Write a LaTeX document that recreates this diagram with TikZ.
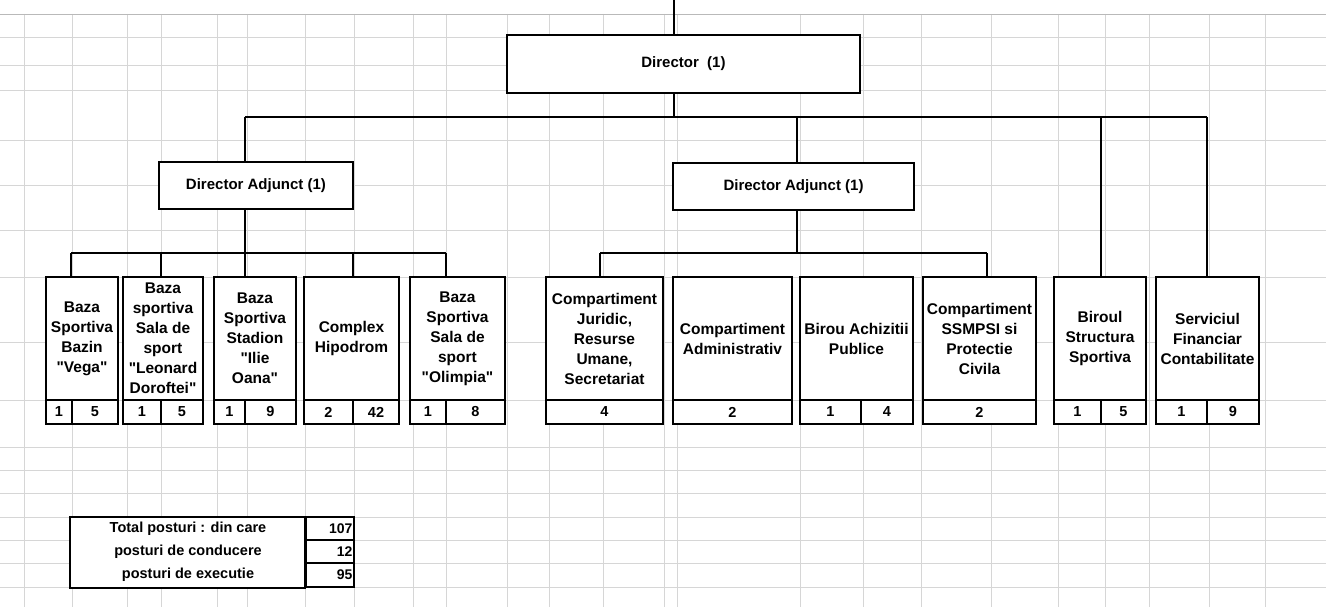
\documentclass[tikz,border=0pt]{standalone}
\usepackage{fontspec}
\setmainfont{Liberation Sans}
\usetikzlibrary{calc}

\tikzset{
    unit/.style={draw, line width=1.8pt, fill=white, align=center, inner sep=0pt,
        font=\bfseries\fontsize{15.5}{20}\selectfont},
    cnt/.style={draw, line width=1.8pt, fill=white, inner sep=0pt, minimum height=24pt,
        font=\bfseries\fontsize{14.5}{16}\selectfont},
    head/.style={draw, line width=1.8pt, fill=white, inner sep=0pt,
        font=\bfseries\fontsize{15}{16}\selectfont},
    link/.style={line width=1.6pt},
    sheetline/.style={gray!32, line width=0.5pt}
}

\newcommand\q{\textquotedbl}
% upper cell of a department: name, left x, right x, text
\newcommand\unitbox[4]{%
    \node[unit, minimum width=#3pt-#2pt, minimum height=123pt]
        (#1) at ({(#2+#3)/2},338.5) {#4};}
% lower cell split in two: name, left x, divider x, right x, values
\newcommand\twocnt[6]{%
    \node[cnt, minimum width=#3pt-#2pt] (#1-l) at ({(#2+#3)/2},412) {#5};
    \node[cnt, minimum width=#4pt-#3pt] (#1-r) at ({(#3+#4)/2},412) {#6};}
% lower cell in one piece: name, left x, right x, value
\newcommand\onecnt[4]{%
    \node[cnt, minimum width=#3pt-#2pt] (#1-c) at ({(#2+#3)/2},412) {#4};}

\begin{document}
\begin{tikzpicture}[x=1pt, y=-1pt]
    \useasboundingbox (0,0) rectangle (1326,607);

    % sheet grid
    \foreach \gx in {24,72,127,161,217,247,305,354,413,446,507,549,603,664,677,
                     800,863,921,991,1058,1105,1149,1209,1265}
        {\draw[sheetline] (\gx,14) -- (\gx,607);}
    \foreach \gy in {37,65,90,140,185,230,277,342,400,447,470,493,517,540,563,587}
        {\draw[sheetline] (0,\gy) -- (1326,\gy);}
    \draw[gray!55, line width=0.8pt] (0,14) -- (1326,14);

    % junction points
    \coordinate (top)  at (674,0);
    \coordinate (b1w)  at (245,117);
    \coordinate (b1e)  at (1207,117);
    \coordinate (j1)   at (674,117);
    \coordinate (j2)   at (797,117);
    \coordinate (j3)   at (1101,117);
    \coordinate (b2w)  at (71,253);
    \coordinate (b2e)  at (446,253);
    \coordinate (b2m)  at (245,253);
    \coordinate (b3w)  at (600,253);
    \coordinate (b3e)  at (987,253);
    \coordinate (b3m)  at (797,253);

    \draw[link] (top) -- (j1);

    \node[head, minimum width=353pt, minimum height=58pt] (dir) at (683.5,64) {Director \ (1)};
    \node[head, minimum width=194pt, minimum height=47pt] (da1) at (256,185.5) {Director Adjunct (1)};
    \node[head, minimum width=241pt, minimum height=47pt] (da2) at (793.5,186.5) {Director Adjunct (1)};

    % first director adjunct
    \unitbox{vega}{46}{118}{Baza\\Sportiva\\Bazin\\\q Vega\q}
    \twocnt{vega}{46}{72}{118}{1}{5}
    \unitbox{leonard}{123}{203}{Baza\\sportiva\\Sala de\\sport\\\q Leonard\\Doroftei\q}
    \twocnt{leonard}{123}{161}{203}{1}{5}
    \unitbox{stadion}{214}{296}{Baza\\Sportiva\\Stadion\\\q Ilie\\Oana\q}
    \twocnt{stadion}{214}{245}{296}{1}{9}
    \unitbox{hipo}{304}{399}{Complex\\Hipodrom}
    \twocnt{hipo}{304}{353}{399}{2}{42}
    \unitbox{olimpia}{410}{505}{Baza\\Sportiva\\Sala de\\sport\\\q Olimpia\q}
    \twocnt{olimpia}{410}{446}{505}{1}{8}

    % second director adjunct
    \unitbox{juridic}{546}{663}{Compartiment\\Juridic,\\Resurse\\Umane,\\Secretariat}
    \onecnt{juridic}{546}{663}{4}
    \unitbox{admin}{673}{792}{Compartiment\\Administrativ}
    \onecnt{admin}{673}{792}{2}
    \unitbox{achiz}{800}{913}{Birou Achizitii\\Publice}
    \twocnt{achiz}{800}{861}{913}{1}{4}
    \unitbox{ssm}{923}{1036}{Compartiment\\SSMPSI si\\Protectie\\Civila}
    \onecnt{ssm}{923}{1036}{2}

    % directly under the director
    \unitbox{struct}{1054}{1146}{Biroul\\Structura\\Sportiva}
    \twocnt{struct}{1054}{1101}{1146}{1}{5}
    \unitbox{fin}{1156}{1259}{Serviciul\\Financiar\\Contabilitate}
    \twocnt{fin}{1156}{1207}{1259}{1}{9}

    % connectors
    \draw[link] (b1w) -- (b1e);
    \path[link]
        (b1w) edge (b1w |- da1.north)
        (j2)  edge (j2 |- da2.north)
        (j3)  edge (j3 |- struct.north)
        (b1e) edge (b1e |- fin.north);

    \draw[link] (da1.south -| b2m) -- (b2m);
    \draw[link] (b2w) -- (b2e);
    \path[link]
        (b2w)        edge (b2w |- vega.north)
        (161,253)    edge (161,253 |- leonard.north)
        (b2m)        edge (b2m |- stadion.north)
        (353,253)    edge (353,253 |- hipo.north)
        (b2e)        edge (b2e |- olimpia.north);

    \draw[link] (da2.south -| b3m) -- (b3m);
    \draw[link] (b3w) -- (b3e);
    \path[link]
        (b3w) edge (b3w |- juridic.north)
        (b3e) edge (b3e |- ssm.north);

    % totals
    \node[draw, line width=1.8pt, fill=white, minimum width=235pt, minimum height=71pt,
        inner sep=0pt] (tleft) at (187.5,552.5) {};
    \foreach \r/\ty/\tx/\tn in {1/529/Total posturi : din care/107,
                                2/552/posturi de conducere/12,
                                3/575/posturi de executie/95}
        {\node[font=\bfseries\fontsize{14.5}{16}\selectfont] (t\r) at (188,\ty) {\tx};
         \node[cnt, minimum width=48pt, minimum height=23.7pt, anchor=west,
               font=\bfseries\fontsize{14}{16}\selectfont, text width=45pt, align=right]
               (n\r) at (305,\ty) {\tn};}
\end{tikzpicture}
\end{document}
